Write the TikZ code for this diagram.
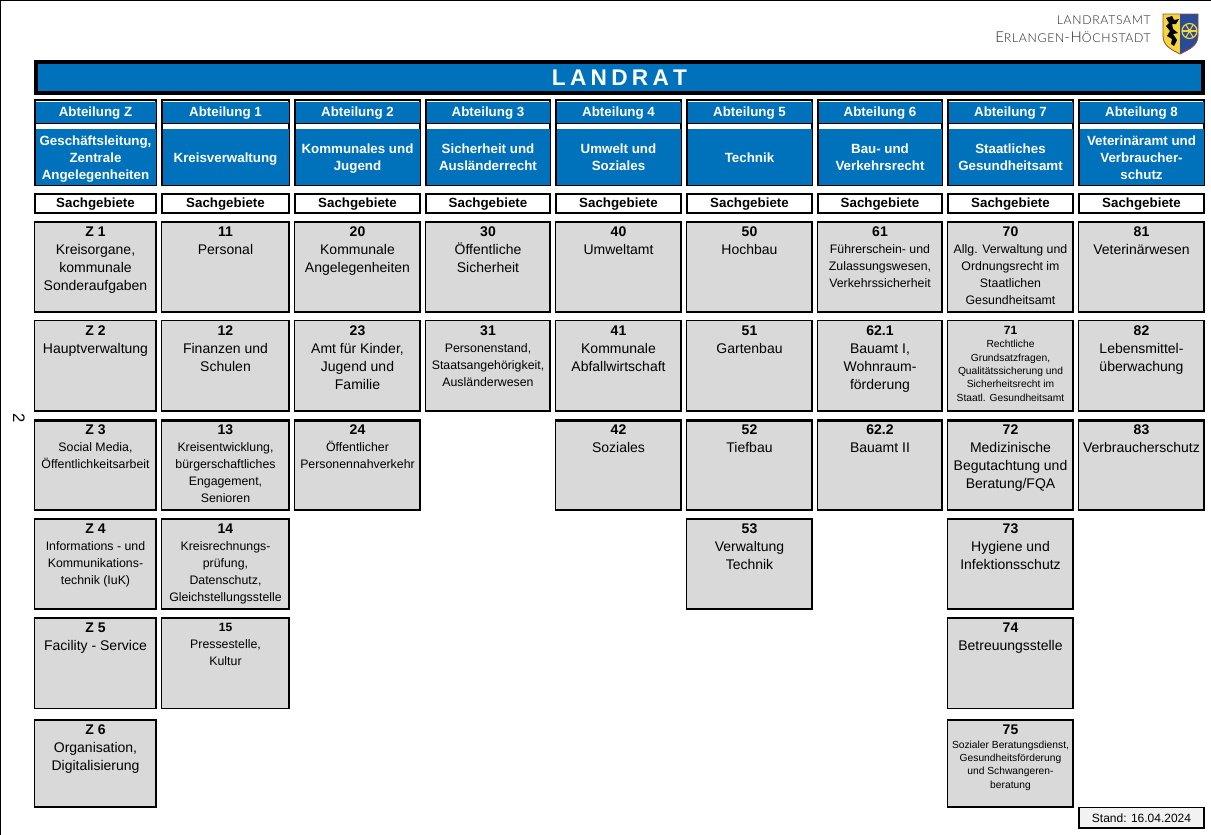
\documentclass[tikz,border=0pt]{standalone}
\usepackage{fontspec}
\setmainfont{Liberation Sans}
\newfontfamily\logofont{Lato Light}[LetterSpace=5.5]
\definecolor{lrablue}{HTML}{0072BC}
\definecolor{cellgrey}{HTML}{D9D9D9}
\definecolor{standgrey}{HTML}{F2F2F2}
\definecolor{arblue}{HTML}{2A4A9A}
\definecolor{aryellow}{HTML}{F2D63A}
\definecolor{arred}{HTML}{9A4A3A}
% columns
\def\xaZ{34}\def\xbZ{157}
\def\xaA{161}\def\xbA{290}
\def\xaB{294}\def\xbB{421}
\def\xaC{425}\def\xbC{551}
\def\xaD{555}\def\xbD{682}
\def\xaE{686}\def\xbE{813}
\def\xaF{817}\def\xbF{943}
\def\xaG{947}\def\xbG{1074}
\def\xaH{1078}\def\xbH{1205}
% rows: top, bottom, top line width, bottom line width (px)
\def\yaa{221}\def\yba{313}\def\twa{1.5}\def\bwa{2.5}
\def\yab{320}\def\ybb{412}\def\twb{1.3}\def\bwb{1.9}
\def\yac{419}\def\ybc{511}\def\twc{2.5}\def\bwc{1.7}
\def\yad{518}\def\ybd{610}\def\twd{2.3}\def\bwd{1.7}
\def\yae{617}\def\ybe{709}\def\twe{2.0}\def\bwe{1.1}
\def\yaf{719}\def\ybf{808}\def\twf{1.7}\def\bwf{1.8}
\newcommand\fbig{\fontsize{10.5}{13.5}\selectfont}
\newcommand\fmid{\fontsize{9.25}{12.75}\selectfont}
\newcommand\fsma{\fontsize{7.7}{10}\selectfont}
\newcommand\fnum{\fontsize{10.5}{12.75}\selectfont\bfseries}
\newcommand\fnumsm{\fontsize{9}{12.75}\selectfont\bfseries\def\numrule{\rule{0pt}{7.2pt}}}
\newcommand\numrule{\rule{0pt}{8pt}}
\tikzset{
 x=0.75pt,y=-0.75pt,
 cellbox/.style={fill=cellgrey,inner sep=0pt,outer sep=0pt},
 celltext/.style={anchor=north,align=center,inner sep=0pt,outer sep=0pt,text=black},
 framebox/.style={draw=black,line width=1.5pt,fill=white,inner sep=0pt,outer sep=0pt},
 bluefill/.style={fill=lrablue,inner sep=0pt,outer sep=0pt,text=white,align=center,font=\fontsize{10}{12.75}\selectfont\bfseries},
 sachbox/.style={draw=black,line width=1.5pt,fill=white,inner sep=0pt,outer sep=0pt,font=\fontsize{10}{12.75}\selectfont\bfseries},
}
\newcommand\rectnode[7]{%
 \pgfmathsetmacro\wid{(#4-#3)*0.75}\pgfmathsetmacro\hei{(#6-#5)*0.75}%
 \node[#1,minimum width=\wid pt,minimum height=\hei pt] (#2) at ({(#3+#4)/2},{(#5+#6)/2}) {#7};}
% cell: name, col, row, body font, number font, number, body
\newcommand\cell[7]{%
 \edef\xa{\csname xa#2\endcsname}\edef\xb{\csname xb#2\endcsname}%
 \edef\ya{\csname ya#3\endcsname}\edef\yb{\csname yb#3\endcsname}%
 \edef\tw{\csname tw#3\endcsname}\edef\bw{\csname bw#3\endcsname}%
 \pgfmathsetmacro\wid{(\xb-\xa)*0.75}\pgfmathsetmacro\hei{(\yb-\ya)*0.75}%
 \pgfmathsetmacro\tws{\tw*0.75}\pgfmathsetmacro\bws{\bw*0.75}%
 \node[cellbox,minimum width=\wid pt,minimum height=\hei pt] (#1) at ({(\xa+\xb)/2},{(\ya+\yb)/2}) {};
 \draw[black,line width=\tws pt] ([yshift=-\tws pt/2]#1.north west) -- ([yshift=-\tws pt/2]#1.north east);
 \draw[black,line width=\bws pt] ([yshift=\bws pt/2]#1.south west) -- ([yshift=\bws pt/2]#1.south east);
 \draw[black,line width=1pt] ([xshift=0.5pt]#1.north west) -- ([xshift=0.5pt]#1.south west);
 \draw[black,line width=1.6pt] ([xshift=-0.8pt]#1.north east) -- ([xshift=-0.8pt]#1.south east);
 \node[celltext,font=#4] (#1-t) at ({(\xa+\xb)/2},{\ya+5}) {{#5\numrule#6}\\#7};}
% head: key, column, Abteilung text, subtitle
\newcommand\head[4]{%
 \edef\xa{\csname xa#2\endcsname}\edef\xb{\csname xb#2\endcsname}%
 \pgfmathsetmacro\wid{(\xb-\xa-2)*0.75}\pgfmathsetmacro\widin{(\xb-\xa-3)*0.75}%
 \node[framebox,minimum width=\wid pt,minimum height=63.75pt] (fr#1) at ({(\xa+\xb)/2},142.5) {};
 \node[bluefill,minimum width=\widin pt,minimum height=16.5pt] (ab#1) at ({(\xa+\xb)/2},112.5) {\raisebox{-0.6pt}[7.2pt][2.1pt]{#3}};
 \draw[line width=0.75pt,black] (ab#1.south west) -- (ab#1.south east);
 \node[bluefill,minimum width=\widin pt,minimum height=42pt] (su#1) at ({(\xa+\xb)/2},157) {\rule{0pt}{10.3pt}#4\rule[-2.2pt]{0pt}{0pt}};
 \node[sachbox,minimum width=\wid pt,minimum height=14.25pt] (sa#1) at ({(\xa+\xb)/2},203.5) {\raisebox{-0.6pt}[7.2pt][2.1pt]{Sachgebiete}};}
\begin{document}
\begin{tikzpicture}
\useasboundingbox (0,0) rectangle (1211,835);
\fill[white] (0,0) rectangle (1211,835);
% sheet edges
\coordinate (sheetTL) at (0.5,0.7);
\coordinate (sheetTR) at (1211,0.7);
\coordinate (sheetBL) at (0.5,835);
\draw[line width=1.1pt,black] (sheetTR) -- (sheetTL) -- (sheetBL);
% logo text
\node[anchor=east,inner sep=0pt,text=black!85] (logoA) at (1151,20)
 {\logofont\fontsize{9.2}{11}\selectfont LANDRATSAMT};
\node[anchor=east,inner sep=0pt,text=black!85] (logoB) at (1151,37.5)
 {\logofont\fontsize{11.2}{13}\selectfont E{\fontsize{9.2}{11}\selectfont RLANGEN}-H{\fontsize{9.2}{11}\selectfont ÖCHSTADT}};
% coat of arms
\fill[aryellow] (1163,14) -- (1198,14) -- (1198,36) .. controls (1198,46) and (1188,50) .. (1180,54) .. controls (1172,50) and (1163,46) .. (1163,36) -- cycle;
\fill[arblue] (1180,14) -- (1198,14) -- (1198,36) .. controls (1198,46) and (1188,50) .. (1180,54) -- cycle;
% lion
\fill[black] (1166,18) -- (1172,16) -- (1174,20) -- (1179,19) -- (1176,24) -- (1172,24) -- (1173,29) -- (1178,33) -- (1173,34) -- (1177,40) -- (1174,46) -- (1171,44) -- (1172,39) -- (1167,36) -- (1170,31) -- (1166,26) -- (1169,23) -- cycle;
% wheel
\draw[aryellow,line width=0.9pt] (1189.5,31) circle (7.5);
\foreach \ang in {0,60,120} {
  \draw[aryellow,line width=0.8pt] ({1189.5+7.5*cos(\ang)},{31+7.5*sin(\ang)}) -- ({1189.5-7.5*cos(\ang)},{31-7.5*sin(\ang)});
}
\fill[aryellow] (1189.5,31) circle (2);
\draw[arred,line width=0.6pt] (1163,14) -- (1198,14) -- (1198,36) .. controls (1198,46) and (1188,50) .. (1180,54) .. controls (1172,50) and (1163,46) .. (1163,36) -- cycle;
% rotated page number
\node[rotate=-90,inner sep=0pt,font=\fontsize{12.5}{14}\selectfont] (pagenum) at (19,418) {2};
% title bar
\rectnode{draw=black,line width=3pt,fill=lrablue,inner sep=0pt,outer sep=0pt,text=white,font=\fontsize{17}{19}\selectfont\bfseries}{landrat}{36}{1203}{62}{92.5}{L\kern3.2pt A\kern3.2pt N\kern3.2pt D\kern3.2pt R\kern3.2pt A\kern3.2pt T}
% department heads
\head{Z}{Z}{Abteilung Z}{Geschäftsleitung,\\Zentrale\\Angelegenheiten}
\head{A}{A}{Abteilung 1}{Kreisverwaltung}
\head{B}{B}{Abteilung 2}{Kommunales und\\Jugend}
\head{C}{C}{Abteilung 3}{Sicherheit und\\Ausländerrecht}
\head{D}{D}{Abteilung 4}{Umwelt und\\Soziales}
\head{E}{E}{Abteilung 5}{Technik}
\head{F}{F}{Abteilung 6}{Bau- und\\Verkehrsrecht}
\head{G}{G}{Abteilung 7}{Staatliches\\Gesundheitsamt}
\head{H}{H}{Abteilung 8}{Veterinäramt und\\Verbraucher-\\schutz}
% column Z
\cell{z1}{Z}{a}{\fbig}{\fnum}{Z 1}{Kreisorgane,\\kommunale\\Sonderaufgaben}
\cell{z2}{Z}{b}{\fbig}{\fnum}{Z 2}{Hauptverwaltung}
\cell{z3}{Z}{c}{\fmid}{\fnum}{Z 3}{Social Media,\\Öffentlichkeitsarbeit}
\cell{z4}{Z}{d}{\fmid}{\fnum}{Z 4}{Informations - und\\Kommunikations-\\technik (IuK)}
\cell{z5}{Z}{e}{\fbig}{\fnum}{Z 5}{Facility - Service}
\cell{z6}{Z}{f}{\fbig}{\fnum}{Z 6}{Organisation,\\Digitalisierung}
% column 1
\cell{c11}{A}{a}{\fbig}{\fnum}{11}{Personal}
\cell{c12}{A}{b}{\fbig}{\fnum}{12}{Finanzen und\\Schulen}
\cell{c13}{A}{c}{\fmid}{\fnum}{13}{Kreisentwicklung,\\bürgerschaftliches\\Engagement,\\Senioren}
\cell{c14}{A}{d}{\fmid}{\fnum}{14}{Kreisrechnungs-\\prüfung,\\Datenschutz,\\Gleichstellungsstelle}
\cell{c15}{A}{e}{\fmid}{\fnumsm}{15}{Pressestelle,\\Kultur}
% column 2
\cell{c20}{B}{a}{\fbig}{\fnum}{20}{Kommunale\\Angelegenheiten}
\cell{c23}{B}{b}{\fbig}{\fnum}{23}{Amt für Kinder,\\Jugend und\\Familie}
\cell{c24}{B}{c}{\fmid}{\fnum}{24}{Öffentlicher\\Personennahverkehr}
% column 3
\cell{c30}{C}{a}{\fbig}{\fnum}{30}{Öffentliche\\Sicherheit}
\cell{c31}{C}{b}{\fmid}{\fnum}{31}{Personenstand,\\Staatsangehörigkeit,\\Ausländerwesen}
% column 4
\cell{c40}{D}{a}{\fbig}{\fnum}{40}{Umweltamt}
\cell{c41}{D}{b}{\fbig}{\fnum}{41}{Kommunale\\Abfallwirtschaft}
\cell{c42}{D}{c}{\fbig}{\fnum}{42}{Soziales}
% column 5
\cell{c50}{E}{a}{\fbig}{\fnum}{50}{Hochbau}
\cell{c51}{E}{b}{\fbig}{\fnum}{51}{Gartenbau}
\cell{c52}{E}{c}{\fbig}{\fnum}{52}{Tiefbau}
\cell{c53}{E}{d}{\fbig}{\fnum}{53}{Verwaltung\\Technik}
% column 6
\cell{c61}{F}{a}{\fmid}{\fnum}{61}{Führerschein- und\\Zulassungswesen,\\Verkehrssicherheit}
\cell{c621}{F}{b}{\fbig}{\fnum}{62.1}{Bauamt I,\\Wohnraum-\\förderung}
\cell{c622}{F}{c}{\fbig}{\fnum}{62.2}{Bauamt II}
% column 7
\cell{c70}{G}{a}{\fmid}{\fnum}{70}{Allg. Verwaltung und\\Ordnungsrecht im\\Staatlichen\\Gesundheitsamt}
\cell{c71}{G}{b}{\fsma}{\fnumsm}{71}{Rechtliche\\Grundsatzfragen,\\Qualitätssicherung und\\Sicherheitsrecht im\\Staatl. Gesundheitsamt}
\cell{c72}{G}{c}{\fbig}{\fnum}{72}{Medizinische\\Begutachtung und\\Beratung/FQA}
\cell{c73}{G}{d}{\fbig}{\fnum}{73}{Hygiene und\\Infektionsschutz}
\cell{c74}{G}{e}{\fbig}{\fnum}{74}{Betreuungsstelle}
\cell{c75}{G}{f}{\fsma}{\fnum}{75}{Sozialer Beratungsdienst,\\Gesundheitsförderung\\und Schwangeren-\\beratung}
% column 8
\cell{c81}{H}{a}{\fbig}{\fnum}{81}{Veterinärwesen}
\cell{c82}{H}{b}{\fbig}{\fnum}{82}{Lebensmittel-\\überwachung}
\cell{c83}{H}{c}{\fbig}{\fnum}{83}{Verbraucherschutz}
% date
\rectnode{draw=black,line width=1.2pt,fill=standgrey,inner sep=0pt,outer sep=0pt,font=\fontsize{9}{11}\selectfont}{stand}{1079}{1204}{807.5}{828}{Stand: 16.04.2024}
\end{tikzpicture}
\end{document}
